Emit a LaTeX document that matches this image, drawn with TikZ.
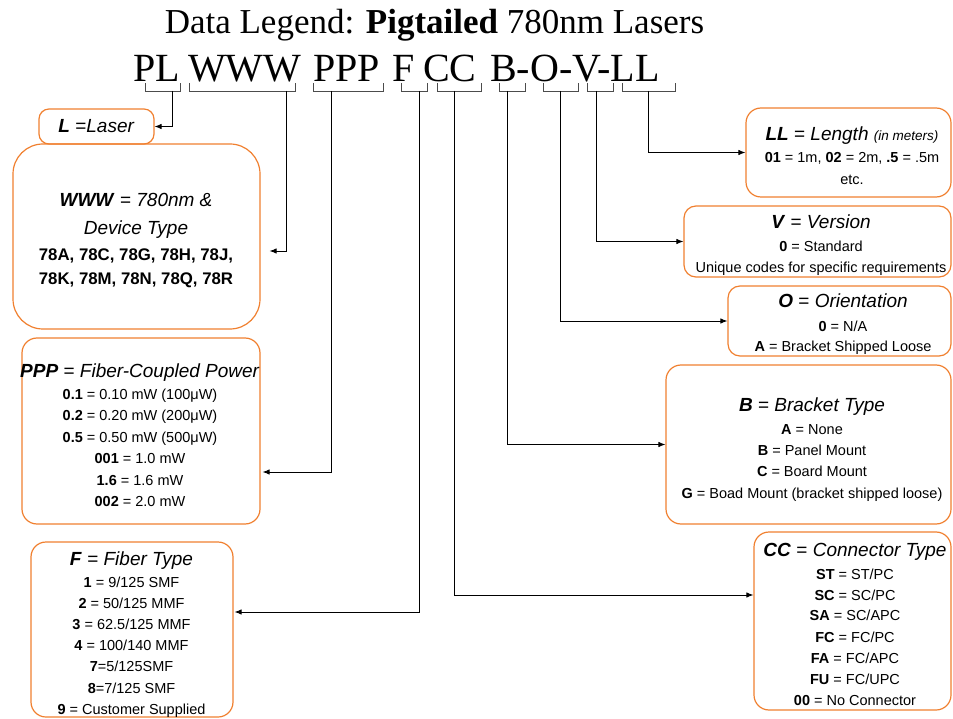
\documentclass[tikz,border=0pt]{standalone}
\usepackage{fontspec}
\setmainfont{Liberation Sans}
\newfontfamily\serifTitle{Liberation Serif}
\usetikzlibrary{arrows.meta}
\definecolor{boxorange}{RGB}{240,128,48}
\newcommand\BI[1]{\textbf{\textit{#1}}}
\newcommand\TxtLine[5]{\node[tline,font=\fontsize{#4}{#4}\selectfont] (#1) at (#2,#3) {#5};}
\tikzset{
  tline/.style={anchor=base,inner sep=0pt},
  codeseg/.style={anchor=base west,inner sep=0pt,font=\serifTitle\fontsize{40}{40}\selectfont},
  obox/.style={draw=boxorange,line width=1.2pt,inner sep=0pt,rounded corners=#1},
  obox/.default=15pt,
  brk/.style={draw=black!70,line width=0.8pt},
  conn/.style={draw=black,line width=0.9pt,-{Latex[length=7pt,width=5.5pt]}}
}
\begin{document}
\begin{tikzpicture}[x=1pt,y=-1pt]
\useasboundingbox (0,0) rectangle (953,719);

% title and code
\node[tline,font=\serifTitle\fontsize{35}{35}\selectfont] (title) at (434.5,34) {Data Legend: \textbf{Pigtailed} 780nm Lasers};
\node[codeseg] (cPL) at (133,82) {PL};
\node[codeseg] (cW) at (188,82) {WWW};
\node[codeseg] (cP) at (313,82) {PPP};
\node[codeseg] (cF) at (392,82) {F};
\node[codeseg] (cC) at (423,82) {CC};
\node[codeseg] (cB) at (490,82) {B-O-V-LL};

% brackets
\foreach \xa/\xb in {145/180,189/295,313/383,401/427,437/481,499/525,543/578,587/613,622/675}{
  \draw[brk] (\xa,83) -- (\xa,91) -- (\xb,91) -- (\xb,83);
}
\coordinate (dPL) at (172,91);
\coordinate (dW) at (286,91);
\coordinate (dP) at (331,91);
\coordinate (dF) at (419,91);
\coordinate (dC) at (454,91);
\coordinate (dB) at (507,91);
\coordinate (dO) at (560,91);
\coordinate (dV) at (596,91);
\coordinate (dL) at (648,91);

% boxes
\node[obox=10pt,minimum width=115pt,minimum height=35pt] (Lbox) at (96.5,126.5) {};
\node[obox=30pt,minimum width=247pt,minimum height=185pt] (Wbox) at (136.5,236.5) {};
\node[obox,minimum width=238pt,minimum height=186pt] (Pbox) at (141,431) {};
\node[obox,minimum width=202pt,minimum height=175pt] (Fbox) at (132,629.5) {};
\node[obox,minimum width=205pt,minimum height=89pt] (LLbox) at (848.5,152.5) {};
\node[obox=12pt,minimum width=267pt,minimum height=71pt] (Vbox) at (817.5,241.5) {};
\node[obox=12pt,minimum width=223pt,minimum height=70pt] (Obox) at (839.5,321) {};
\node[obox,minimum width=285pt,minimum height=159pt] (Bbox) at (808.5,444.5) {};
\node[obox,minimum width=197pt,minimum height=178pt] (Cbox) at (852.5,621) {};

% connectors
\draw[conn] (dPL) |- (Lbox.east);
\draw[conn] (dW) |- ([xshift=9pt,yshift=-14.5pt]Wbox.east);
\draw[conn] (dP) |- ([xshift=2pt,yshift=-41pt]Pbox.east);
\draw[conn] (dF) |- ([xshift=1pt,yshift=17.5pt]Fbox.east);
\draw[conn] (dC) |- ([yshift=26pt]Cbox.west);
\draw[conn] (dB) |- (Bbox.west);
\draw[conn] (dO) |- (Obox.west);
\draw[conn] (dV) |- (Vbox.west);
\draw[conn] (dL) |- (LLbox.west);

% L box
\TxtLine{tL}{96.5}{133}{19}{\BI{L} =\textit{Laser}}
% WWW box
\TxtLine{tW1}{136}{207}{19}{\BI{WWW} = \textit{780nm \&}}
\TxtLine{tW2}{136}{235}{19}{\textit{Device Type}}
\TxtLine{tW3}{136}{261}{16.8}{\textbf{78A, 78C, 78G, 78H, 78J,}}
\TxtLine{tW4}{136}{285}{16.8}{\textbf{78K, 78M, 78N, 78Q, 78R}}
% PPP box
\TxtLine{tP0}{140}{377}{19}{\BI{PPP} = \textit{Fiber-Coupled Power}}
\TxtLine{tP1}{140}{399}{14.5}{\textbf{0.1} = 0.10 mW (100μW)}
\TxtLine{tP2}{140}{420.5}{14.5}{\textbf{0.2} = 0.20 mW (200μW)}
\TxtLine{tP3}{140}{442}{14.5}{\textbf{0.5} = 0.50 mW (500μW)}
\TxtLine{tP4}{140}{463.5}{14.5}{\textbf{001} = 1.0 mW}
\TxtLine{tP5}{140}{485}{14.5}{\textbf{1.6} = 1.6 mW}
\TxtLine{tP6}{140}{506.5}{14.5}{\textbf{002} = 2.0 mW}
% F box
\TxtLine{tF0}{131.5}{565}{19}{\BI{F} = \textit{Fiber Type}}
\TxtLine{tF1}{131.5}{587}{14.5}{\textbf{1} = 9/125 SMF}
\TxtLine{tF2}{131.5}{608.2}{14.5}{\textbf{2} = 50/125 MMF}
\TxtLine{tF3}{131.5}{629.4}{14.5}{\textbf{3} = 62.5/125 MMF}
\TxtLine{tF4}{131.5}{650.6}{14.5}{\textbf{4} = 100/140 MMF}
\TxtLine{tF5}{131.5}{671.8}{14.5}{\textbf{7}=5/125SMF}
\TxtLine{tF6}{131.5}{693}{14.5}{\textbf{8}=7/125 SMF}
\TxtLine{tF7}{131.5}{714}{14.5}{\textbf{9} = Customer Supplied}
% LL box
\TxtLine{tLL0}{852}{141}{19}{\BI{LL} = \textit{Length} {\fontsize{13.5}{13.5}\selectfont\textit{(in meters)}}}
\TxtLine{tLL1}{852}{163}{14.5}{\textbf{01} = 1m, \textbf{02} = 2m, \textbf{.5} = .5m}
\TxtLine{tLL2}{852}{185}{14.5}{etc.}
% V box
\TxtLine{tV0}{821}{229}{19}{\BI{V} = \textit{Version}}
\TxtLine{tV1}{821}{252}{14.5}{\textbf{0} = Standard}
\TxtLine{tV2}{821}{273}{14.5}{Unique codes for specific requirements}
% O box
\TxtLine{tO0}{843}{308}{19}{\BI{O} = \textit{Orientation}}
\TxtLine{tO1}{843}{331}{14.5}{\textbf{0} = N/A}
\TxtLine{tO2}{843}{352}{14.5}{\textbf{A} = Bracket Shipped Loose}
% B box
\TxtLine{tB0}{812}{411}{19}{\BI{B} = \textit{Bracket Type}}
\TxtLine{tB1}{812}{434}{14.5}{\textbf{A} = None}
\TxtLine{tB2}{812}{455}{14.5}{\textbf{B} = Panel Mount}
\TxtLine{tB3}{812}{476}{14.5}{\textbf{C} = Board Mount}
\TxtLine{tB4}{812}{498}{14.5}{\textbf{G} = Boad Mount (bracket shipped loose)}
% CC box
\TxtLine{tC0}{855}{556}{19}{\BI{CC} = \textit{Connector Type}}
\TxtLine{tC1}{855}{579}{14.5}{\textbf{ST} = ST/PC}
\TxtLine{tC2}{855}{600}{14.5}{\textbf{SC} = SC/PC}
\TxtLine{tC3}{855}{620.5}{14.5}{\textbf{SA} = SC/APC}
\TxtLine{tC4}{855}{642}{14.5}{\textbf{FC} = FC/PC}
\TxtLine{tC5}{855}{663}{14.5}{\textbf{FA} = FC/APC}
\TxtLine{tC6}{855}{684}{14.5}{\textbf{FU} = FC/UPC}
\TxtLine{tC7}{855}{705}{14.5}{\textbf{00} = No Connector}
\end{tikzpicture}
\end{document}
